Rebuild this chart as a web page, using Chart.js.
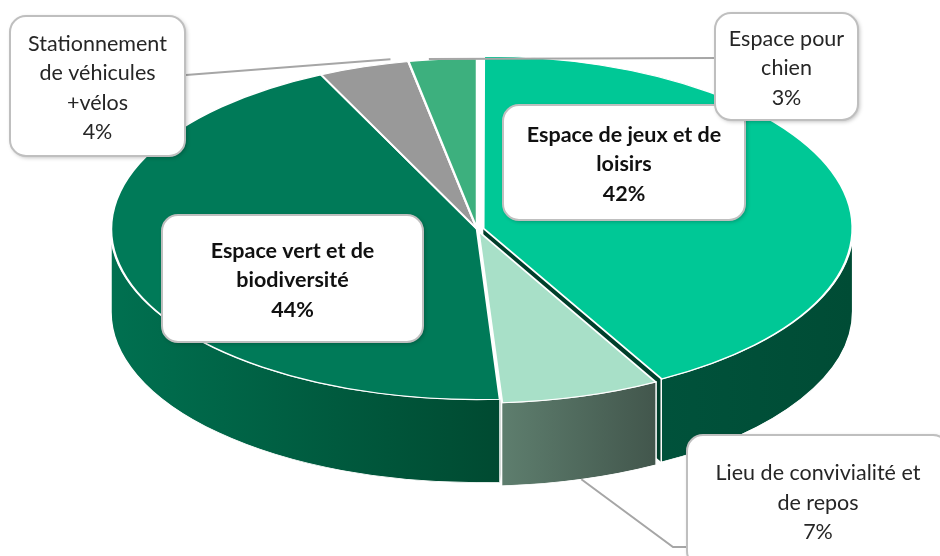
<!DOCTYPE html>
<html><head><meta charset="utf-8">
<script src="https://cdn.jsdelivr.net/npm/chart.js@4.4.0/dist/chart.umd.min.js"></script>
<style>html,body{margin:0;padding:0;background:#fff;}#wrap{width:940px;height:556px;position:relative;overflow:hidden;}</style>
</head><body><div id="wrap"><canvas id="c" width="940" height="556"></canvas></div>
<script>
// ---- data ----
const categories = ["Espace de jeux et de loisirs", "Lieu de convivialité et de repos", "Espace vert et de biodiversité", "Stationnement de véhicules +vélos", "Espace pour chien"];
const shares = [42, 7, 44, 4, 3];
const labelLines = [["Espace de jeux et de", "loisirs"], ["Lieu de convivialité et", "de repos"], ["Espace vert et de", "biodiversité"], ["Stationnement", "de véhicules", "+vélos"], ["Espace pour", "chien"]];

// ---- styles ----
const topColors = ["#00C896", "#A8E0C8", "#007A58", "#999999", "#3DB07E"];
const sideLeft = ["#00523B", "#5E7E6E", "#007050", "#7A7A7A", "#2E8A60"];
const sideRight = ["#004C35", "#42564C", "#004A31", "#666666", "#226848"];
const faceColors = ["#003F2B", "#3E5A4C", "#004A31", "#6A6A6A", "#226848"];
const explode = [26, 20, 0, 0, 0];
const TILT = 0.466, DEPTH = 83;
const boxes = [
  {x: 503, y: 105, w: 242, h: 115, bold: true},
  {x: 687, y: 435, w: 262, h: 132, bold: false, leader: [[673, 547], [687, 547]], front: true, frac: 0.5, dy: 0},
  {x: 162, y: 215, w: 261, h: 127, bold: true},
  {x: 10, y: 16, w: 175, h: 140, bold: false, leader: [[186, 75]], frac: 0.8, dy: -4},
  {x: 715, y: 13, w: 143, h: 107, bold: false, leader: [[715, 58]], frac: 0.3, dy: -1}
];

function visibleRanges(s, e) {
  const out = [];
  for (const sh of [0, 2 * Math.PI, -2 * Math.PI]) {
    const a0 = Math.max(s + sh, 0), a1 = Math.min(e + sh, Math.PI);
    if (a1 > a0) out.push([a0, a1]);
  }
  return out;
}
function geom(arc) {
  const o = (arc.options.offset || 0) / 4;
  const mid = (arc.startAngle + arc.endAngle) / 2;
  const fix = 1 - Math.sin(Math.min(Math.PI, arc.endAngle - arc.startAngle));
  return {ox: arc.x + Math.cos(mid) * o, oy: arc.y + Math.sin(mid) * o, r: arc.outerRadius + o * fix, mid, o};
}

const pie3d = {
  id: 'pie3d',
  beforeDatasetsDraw(chart) {
    const ctx = chart.ctx;
    const arcs = chart.getDatasetMeta(0).data;
    const cy = arcs[0].y;
    ctx.save();
    ctx.translate(0, cy); ctx.scale(1, TILT); ctx.translate(0, -cy);
    const d = DEPTH / TILT;
    // radial cut faces of exploded slices (drawn first, behind rims)
    arcs.forEach((arc, i) => {
      const g = geom(arc);
      if (!g.o) return;
      [[arc.startAngle, -1], [arc.endAngle, 1]].forEach(([th, sgn]) => {
        if (sgn * Math.cos(th) <= 0.001) return;
        const rx = g.ox + g.r * Math.cos(th), ry = g.oy + g.r * Math.sin(th);
        ctx.beginPath();
        ctx.moveTo(g.ox, g.oy); ctx.lineTo(rx, ry); ctx.lineTo(rx, ry + d); ctx.lineTo(g.ox, g.oy + d);
        ctx.closePath();
        ctx.fillStyle = faceColors[i]; ctx.fill();
      });
    });
    // outer rims
    arcs.forEach((arc, i) => {
      const g = geom(arc);
      visibleRanges(arc.startAngle, arc.endAngle).forEach(([a0, a1]) => {
        ctx.beginPath();
        ctx.arc(g.ox, g.oy, g.r, a0, a1, false);
        ctx.arc(g.ox, g.oy + d, g.r, a1, a0, true);
        ctx.closePath();
        const xa = g.ox + g.r * Math.cos(a0), xb = g.ox + g.r * Math.cos(a1);
        const grad = ctx.createLinearGradient(Math.min(xa, xb), 0, Math.max(xa, xb), 0);
        grad.addColorStop(0, sideLeft[i]);
        grad.addColorStop(1, sideRight[i]);
        ctx.fillStyle = grad;
        ctx.fill();
        ctx.lineWidth = 1.5; ctx.strokeStyle = '#ffffff';
        ctx.stroke();
      });
    });
  },
  afterDatasetsDraw(chart) {
    chart.ctx.restore();
    const ctx = chart.ctx;
    const arcs = chart.getDatasetMeta(0).data;
    // leaders
    ctx.save();
    ctx.strokeStyle = '#A6A6A6'; ctx.lineWidth = 2;
    boxes.forEach((b, i) => {
      if (!b.leader) return;
      const arc = arcs[i];
      const g = geom(arc);
      const th = arc.startAngle + (arc.endAngle - arc.startAngle) * b.frac;
      const ax = g.ox + g.r * Math.cos(th);
      let ay = arc.y + (g.oy - arc.y + g.r * Math.sin(th)) * TILT + b.dy;
      if (b.front) ay += DEPTH;
      ctx.beginPath();
      ctx.moveTo(ax, ay);
      b.leader.forEach(p => ctx.lineTo(p[0], p[1]));
      ctx.stroke();
    });
    // boxes
    boxes.forEach((b, i) => {
      ctx.save();
      ctx.shadowColor = 'rgba(0,0,0,0.28)'; ctx.shadowBlur = 4; ctx.shadowOffsetX = 1.5; ctx.shadowOffsetY = 1.5;
      ctx.beginPath();
      ctx.roundRect(b.x, b.y, b.w, b.h, 16);
      ctx.fillStyle = '#ffffff'; ctx.fill();
      ctx.restore();
      ctx.beginPath();
      ctx.roundRect(b.x, b.y, b.w, b.h, 16);
      ctx.strokeStyle = '#BFBFBF'; ctx.lineWidth = 2; ctx.stroke();
      const lines = labelLines[i].concat([shares[i] + '%']);
      ctx.fillStyle = b.bold ? '#111111' : '#262626';
      ctx.font = (b.bold ? 'bold ' : '') + '21.5px Lato';
      ctx.textAlign = 'center'; ctx.textBaseline = 'middle';
      const lh = 29.5;
      const cx = b.x + b.w / 2;
      const cyb = (b.front ? b.y + 66 : b.y + b.h / 2) + 2;
      const y0 = cyb - (lines.length - 1) * lh / 2;
      lines.forEach((t, k) => ctx.fillText(t, cx, y0 + k * lh));
    });
    ctx.restore();
  }
};

new Chart(document.getElementById('c'), {
  type: 'pie',
  data: {
    labels: categories,
    datasets: [{
      data: shares,
      backgroundColor: topColors,
      borderColor: '#ffffff',
      borderWidth: 2.5,
      offset: explode,
      radius: 366,
      clip: false
    }]
  },
  options: {
    responsive: false,
    animation: false,
    events: [],
    layout: {padding: {left: 14, top: 0, right: 0, bottom: 98}},
    plugins: {legend: {display: false}, tooltip: {enabled: false}}
  },
  plugins: [pie3d]
});
</script>
</body></html>
